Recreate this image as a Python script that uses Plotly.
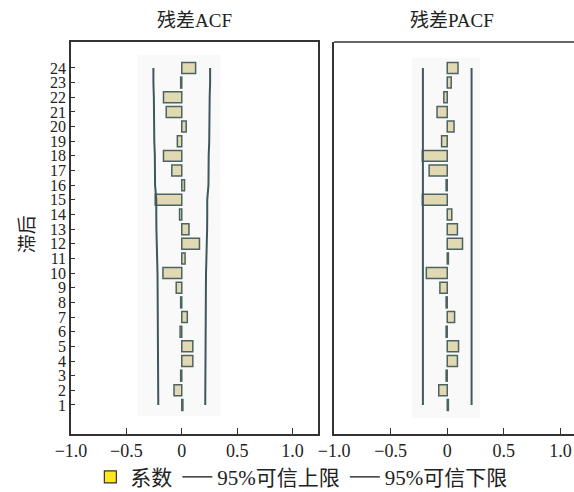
import plotly.graph_objects as go

# Lags and residual autocorrelation coefficients
lags = list(range(1, 25))
acf = [0.01, -0.07, -0.01, 0.10, 0.10, -0.015, 0.05, -0.01, -0.05, -0.17, 0.03, 0.16,
       0.065, -0.02, -0.24, 0.025, -0.09, -0.165, -0.04, 0.04, -0.14, -0.165, -0.01, 0.125]
pacf = [0.01, -0.075, -0.01, 0.09, 0.10, -0.01, 0.065, -0.01, -0.065, -0.185, 0.01, 0.135,
        0.09, 0.04, -0.22, -0.01, -0.16, -0.22, -0.05, 0.06, -0.09, -0.03, 0.035, 0.095]

# 95% confidence limits
acf_upper = [0.212, 0.212, 0.213, 0.213, 0.215, 0.217, 0.217, 0.218, 0.218, 0.219, 0.224, 0.224,
             0.229, 0.230, 0.230, 0.241, 0.241, 0.243, 0.248, 0.248, 0.248, 0.252, 0.256, 0.256]
acf_lower = [-v for v in acf_upper]
pacf_upper = [0.215] * 24
pacf_lower = [-0.215] * 24

xtick_vals = [-1.0, -0.5, 0, 0.5, 1.0]
xtick_text = ["\u22121.0", "\u22120.5", "0", "0.5", "1.0"]

FONT = "Liberation Serif, Noto Sans CJK SC"
BAR_FILL = "#e0d9b2"
BAR_EDGE = "#4c6361"
LIMIT_COLOR = "#3e585c"
AXIS_COLOR = "#333333"

fig = go.Figure()

panels = [("x", "y", acf, acf_upper, acf_lower), ("x2", "y2", pacf, pacf_upper, pacf_lower)]
for xa, ya, coef, up, lo in panels:
    fig.add_trace(go.Bar(x=coef, y=lags, orientation="h", width=0.75, base=0,
                         marker=dict(color=BAR_FILL, line=dict(color=BAR_EDGE, width=1.5)),
                         xaxis=xa, yaxis=ya, showlegend=False))
    fig.add_trace(go.Scatter(x=up, y=lags, mode="lines", line=dict(color=LIMIT_COLOR, width=2),
                             xaxis=xa, yaxis=ya, showlegend=False))
    fig.add_trace(go.Scatter(x=lo, y=lags, mode="lines", line=dict(color=LIMIT_COLOR, width=2),
                             xaxis=xa, yaxis=ya, showlegend=False))

# Legend entries
fig.add_trace(go.Bar(x=[None], y=[None], name="系数",
                     marker=dict(color="#ffe61e", line=dict(color="#333333", width=1.2))))
fig.add_trace(go.Scatter(x=[None], y=[None], mode="lines", name="95%可信上限",
                         line=dict(color="#111111", width=1.2)))
fig.add_trace(go.Scatter(x=[None], y=[None], mode="lines", name="95%可信下限",
                         line=dict(color="#111111", width=1.2)))

# Light backdrop behind each correlogram
backdrops = [("x", "y", -0.40, 0.35, 0.25, 24.9), ("x2", "y2", -0.31, 0.29, 0.1, 24.7)]
for xr, yr, x0, x1, y0, y1 in backdrops:
    fig.add_shape(type="rect", xref=xr, yref=yr, x0=x0, x1=x1, y0=y0, y1=y1,
                  fillcolor="#f9f9fa", line=dict(width=0), layer="below")

axis_common = dict(showline=True, linecolor=AXIS_COLOR, linewidth=1.5, showgrid=False,
                   zeroline=False, ticks="inside", tickcolor=AXIS_COLOR, tickwidth=1.2,
                   automargin=False,
                   tickfont=dict(family=FONT, size=18, color="#222222"))

fig.update_layout(
    width=574, height=492,
    margin=dict(l=0, r=0, t=0, b=0, autoexpand=False),
    paper_bgcolor="white", plot_bgcolor="white",
    font=dict(family=FONT, color="#222222"),
    barmode="overlay",
    xaxis=dict(axis_common, domain=[0.1237, 0.554], range=[-1.0, 1.23], mirror=True,
               tickvals=xtick_vals, ticktext=xtick_text, ticklen=6, anchor="y"),
    yaxis=dict(axis_common, domain=[0.1179, 0.9146], range=[-0.98, 25.77], mirror=True,
               tickvals=lags, ticklen=4, tickfont=dict(family=FONT, size=16, color="#222222"),
               anchor="x"),
    xaxis2=dict(axis_common, domain=[0.582, 1.0], range=[-1.0, 1.12], mirror=False,
                tickvals=xtick_vals, ticktext=xtick_text, ticklen=6, anchor="y2"),
    yaxis2=dict(axis_common, domain=[0.1179, 0.9146], range=[-0.98, 25.77], mirror=False,
                showticklabels=False, ticks="", anchor="x2"),
    legend=dict(orientation="h", x=0.525, xanchor="center", y=0.03, yanchor="middle",
                font=dict(family=FONT, size=21, color="#222222"), bgcolor="rgba(0,0,0,0)"),
    annotations=[
        dict(text="残差ACF", x=0.339, y=0.959, xref="paper", yref="paper", showarrow=False,
             xanchor="center", yanchor="middle", font=dict(family=FONT, size=19, color="#222222")),
        dict(text="残差PACF", x=0.788, y=0.959, xref="paper", yref="paper", showarrow=False,
             xanchor="center", yanchor="middle", font=dict(family=FONT, size=19, color="#222222")),
        dict(text="滞后", x=0.047, y=0.524, xref="paper", yref="paper", showarrow=False,
             xanchor="center", yanchor="middle", textangle=-90,
             font=dict(family=FONT, size=19, color="#222222")),
    ],
)

# Top border line on the right panel (its right edge runs off the canvas)
fig.add_shape(type="line", xref="x2 domain", yref="y2 domain", x0=0, x1=1, y0=1, y1=1,
              line=dict(color=AXIS_COLOR, width=1.5))

fig.write_html("out.html")
